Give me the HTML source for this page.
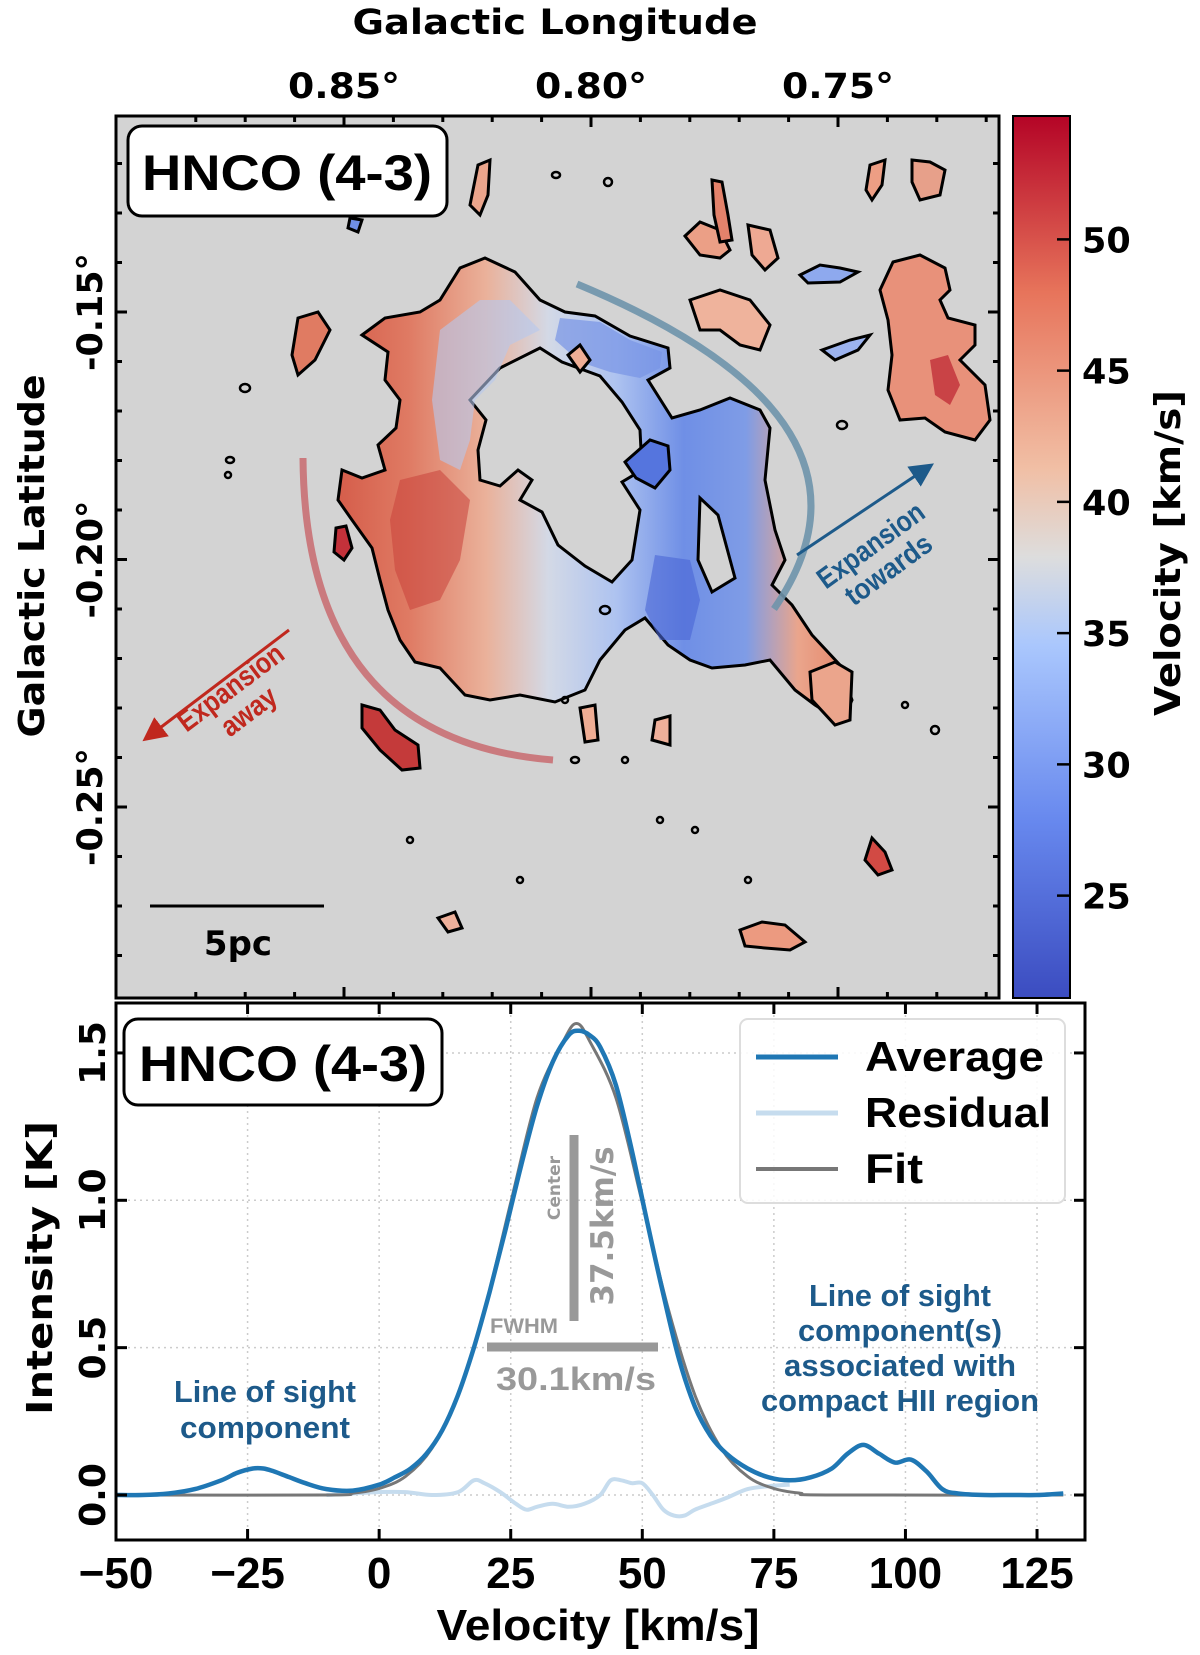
<!DOCTYPE html>
<html><head><meta charset="utf-8">
<style>
html,body{margin:0;padding:0;background:#fff;}
svg{display:block;}
.dj{font-family:"DejaVu Sans","Liberation Sans",sans-serif;font-weight:bold;}
.nw{font-family:"Liberation Sans Narrow","Liberation Sans",sans-serif;font-weight:bold;}
</style></head>
<body>
<svg id="fig" width="1200" height="1655" viewBox="0 0 1200 1655" xmlns="http://www.w3.org/2000/svg">
<defs>
  <linearGradient id="cw" x1="0" y1="1" x2="0" y2="0">
    <stop offset="0" stop-color="#3b4cc0"/>
    <stop offset="0.2" stop-color="#6788ee"/>
    <stop offset="0.4" stop-color="#aac7fd"/>
    <stop offset="0.5" stop-color="#dddddd"/>
    <stop offset="0.6" stop-color="#f1bfa5"/>
    <stop offset="0.8" stop-color="#e7745b"/>
    <stop offset="1" stop-color="#b40426"/>
  </linearGradient>
  <linearGradient id="ringg" gradientUnits="userSpaceOnUse" x1="330" y1="0" x2="850" y2="0">
    <stop offset="0" stop-color="#d45a48"/>
    <stop offset="0.15" stop-color="#df7a63"/>
    <stop offset="0.3" stop-color="#eab19a"/>
    <stop offset="0.42" stop-color="#d3d9e6"/>
    <stop offset="0.55" stop-color="#aec3f0"/>
    <stop offset="0.68" stop-color="#6f8fe6"/>
    <stop offset="0.8" stop-color="#7f9ce6"/>
    <stop offset="0.9" stop-color="#eaa58c"/>
    <stop offset="1" stop-color="#e48468"/>
  </linearGradient>
  <clipPath id="mapclip"><rect x="116" y="116" width="883" height="882"/></clipPath>
  <clipPath id="specclip"><rect x="116" y="1003" width="969" height="537"/></clipPath>
  <marker id="arrR" markerWidth="8" markerHeight="8" refX="4" refY="4" orient="auto" markerUnits="strokeWidth"><path d="M0,0 L8,4 L0,8 Z" fill="#c0281e"/></marker>
  <marker id="arrB" markerWidth="8" markerHeight="8" refX="4" refY="4" orient="auto" markerUnits="strokeWidth"><path d="M0,0 L8,4 L0,8 Z" fill="#1d5a8a"/></marker>
</defs>

<!-- ================= MAP PANEL ================= -->
<text class="dj" x="555" y="34" font-size="35" text-anchor="middle" textLength="405" lengthAdjust="spacingAndGlyphs">Galactic Longitude</text>
<rect x="116" y="116" width="883" height="882" fill="#d3d3d3"/>
<g clip-path="url(#mapclip)" stroke="#000" stroke-width="3">
  <path fill="url(#ringg)" fill-rule="evenodd" d="
   M362,335 L385,318 L420,312 L440,300 L460,268 L485,258 L515,272 L540,300 L565,312 L595,316 L630,336 L668,348 L670,368 L648,380 L672,418 L700,410 L730,398 L760,410 L770,428 L765,480 L775,530 L785,560 L772,585 L792,605 L812,635 L840,665 L852,700 L842,722 L815,705 L795,690 L770,660 L745,665 L712,668 L690,660 L668,645 L645,618 L625,630 L600,660 L585,690 L555,702 L520,695 L490,700 L465,695 L440,668 L415,662 L400,640 L388,610 L380,580 L372,548 L352,520 L338,500 L342,470 L362,478 L385,470 L378,445 L396,428 L400,400 L385,380 L388,352 Z
   M500,368 L540,348 L562,362 L600,376 L622,402 L640,430 L642,470 L622,482 L640,510 L632,560 L612,582 L585,566 L558,545 L542,512 L520,500 L532,480 L518,470 L500,486 L480,480 L478,450 L486,420 L470,400 Z
   M700,498 L718,515 L735,578 L712,592 L698,560 Z"/>
  <path stroke="none" fill="#7894e6" opacity="0.7" d="M560,318 L600,322 L630,340 L662,352 L660,368 L640,378 L610,372 L580,362 L555,340 Z"/>
  <path stroke="none" fill="#b5c8ef" opacity="0.6" d="M440,330 L480,300 L510,300 L540,330 L510,345 L495,380 L475,400 L470,440 L460,470 L440,460 L432,400 Z"/>
  <path stroke="none" fill="#c8413a" opacity="0.55" d="M400,480 L440,470 L470,500 L460,560 L440,600 L410,610 L395,570 L390,520 Z"/>
  <path stroke="none" fill="#4a66d6" opacity="0.6" d="M655,555 L690,560 L700,600 L690,640 L660,640 L645,610 Z"/>
  <path fill="#5575de" d="M625,462 L650,440 L668,446 L670,470 L655,488 L636,478 Z"/>
  <path fill="#e8917a" d="M893,262 L920,255 L945,268 L950,290 L940,300 L948,318 L975,325 L975,345 L960,360 L985,385 L990,420 L975,440 L945,432 L925,418 L900,420 L888,390 L892,355 L888,320 L880,290 Z"/>
  <path stroke="none" fill="#c0303a" opacity="0.8" d="M930,360 L948,355 L960,385 L950,405 L935,395 Z"/>
  <path fill="#c43a3a" d="M362,705 L380,710 L395,730 L418,745 L420,768 L402,770 L380,750 L362,728 Z"/>
  <path fill="#d24a44" d="M872,838 L885,852 L892,870 L878,875 L865,860 Z"/>
  <path fill="#ec9a80" d="M740,930 L762,922 L785,925 L805,942 L790,950 L765,948 L745,946 Z"/>
  <path fill="#e07b62" d="M298,318 L318,312 L330,330 L315,360 L298,375 L292,355 Z"/>
  <path fill="#c3313a" d="M336,528 L346,526 L352,548 L344,560 L334,552 Z"/>
  <path fill="#eb9f86" d="M685,236 L700,222 L720,230 L730,250 L720,258 L700,255 Z"/>
  <path fill="#e3826b" d="M712,180 L722,182 L728,215 L732,240 L720,242 L714,215 Z"/>
  <path fill="#eea993" d="M748,225 L770,230 L778,258 L765,270 L752,255 Z"/>
  <path fill="#ed9e84" d="M870,165 L885,160 L882,185 L872,200 L866,190 Z"/>
  <path fill="#e7a08a" d="M912,160 L930,162 L945,170 L940,195 L920,200 L912,182 Z"/>
  <path fill="#efb39c" d="M690,300 L720,290 L750,300 L770,325 L760,350 L740,345 L720,330 L700,330 Z"/>
  <path fill="#8ea9ee" d="M800,275 L820,265 L840,268 L858,272 L840,282 L808,283 Z"/>
  <path fill="#9cb3ef" d="M822,350 L850,340 L870,335 L858,350 L835,360 Z"/>
  <path fill="#eba58c" d="M810,672 L835,662 L852,672 L850,720 L835,725 L812,700 Z"/>
  <path fill="#eba58c" d="M478,165 L490,160 L488,195 L480,215 L470,205 Z"/>
  <path fill="#6f8ee6" d="M350,218 L362,220 L358,232 L348,228 Z"/>
  <path fill="#efae96" d="M568,355 L580,345 L590,360 L580,372 Z"/>
  <path fill="#efad94" d="M580,708 L595,705 L598,740 L585,742 Z"/>
  <path fill="#efb09a" d="M655,720 L670,716 L670,745 L652,740 Z"/>
  <path fill="#efb09a" d="M438,918 L455,912 L462,928 L448,932 Z"/>
  <g fill="none" stroke-width="2.5">
    <ellipse cx="331" cy="210" rx="4" ry="3"/><ellipse cx="556" cy="175" rx="4" ry="3"/><ellipse cx="608" cy="182" rx="4" ry="4"/>
    <ellipse cx="230" cy="460" rx="4" ry="3"/><ellipse cx="245" cy="388" rx="5" ry="4"/><ellipse cx="228" cy="475" rx="3" ry="3"/>
    <ellipse cx="605" cy="610" rx="5" ry="4"/><ellipse cx="575" cy="760" rx="4" ry="3"/><ellipse cx="660" cy="820" rx="3" ry="3"/>
    <ellipse cx="520" cy="880" rx="3" ry="3"/><ellipse cx="748" cy="880" rx="3" ry="3"/><ellipse cx="842" cy="425" rx="5" ry="4"/>
    <ellipse cx="565" cy="700" rx="3" ry="3"/><ellipse cx="625" cy="760" rx="3" ry="3"/><ellipse cx="695" cy="830" rx="3" ry="3"/>
    <ellipse cx="905" cy="705" rx="3" ry="3"/><ellipse cx="935" cy="730" rx="4" ry="4"/><ellipse cx="410" cy="840" rx="3" ry="3"/>
  </g>
</g>
<path d="M303,458 Q305,740 553,760" fill="none" stroke="#c86a6e" stroke-width="7" opacity="0.85"/>
<path d="M577,284 Q904,420 774,609" fill="none" stroke="#6e93ab" stroke-width="7" opacity="0.9"/>
<line x1="289" y1="630" x2="152" y2="734" stroke="#c0281e" stroke-width="3" marker-end="url(#arrR)"/>
<line x1="797" y1="555" x2="924" y2="470" stroke="#1d5a8a" stroke-width="3" marker-end="url(#arrB)"/>
<g transform="translate(240,700) rotate(-37)">
  <text class="nw" x="0" y="-6" font-size="29" fill="#c0281e" text-anchor="middle" textLength="125" lengthAdjust="spacingAndGlyphs">Expansion</text>
  <text class="nw" x="0" y="24" font-size="29" fill="#c0281e" text-anchor="middle" textLength="62" lengthAdjust="spacingAndGlyphs">away</text>
</g>
<g transform="translate(880,558) rotate(-36)">
  <text class="nw" x="0" y="-6" font-size="29" fill="#1d5a8a" text-anchor="middle" textLength="125" lengthAdjust="spacingAndGlyphs">Expansion</text>
  <text class="nw" x="0" y="24" font-size="29" fill="#1d5a8a" text-anchor="middle" textLength="100" lengthAdjust="spacingAndGlyphs">towards</text>
</g>
<line x1="150" y1="906" x2="324" y2="906" stroke="#000" stroke-width="3"/>
<text class="dj" x="238" y="955" font-size="34" text-anchor="middle">5pc</text>
<rect x="128" y="126" width="319" height="90" rx="14" fill="#fff" stroke="#000" stroke-width="3"/>
<text class="nw" x="287" y="190" font-size="50" text-anchor="middle" textLength="290" lengthAdjust="spacingAndGlyphs">HNCO (4-3)</text>
<g id="mapTicks"></g>
<rect x="116" y="116" width="883" height="882" fill="none" stroke="#000" stroke-width="3"/>
<text class="dj" transform="translate(44,556) rotate(-90)" font-size="36" text-anchor="middle" textLength="363" lengthAdjust="spacingAndGlyphs">Galactic Latitude</text>

<rect x="1013" y="116" width="57" height="882" fill="url(#cw)" stroke="#000" stroke-width="2"/>
<g id="cbTicks"></g>
<text class="dj" transform="translate(1180,553) rotate(-90)" font-size="36" text-anchor="middle" textLength="326" lengthAdjust="spacingAndGlyphs">Velocity [km/s]</text>

<!-- ================= SPECTRUM PANEL ================= -->
<rect x="116" y="1003" width="969" height="537" fill="#fff"/>
<g id="grid"></g>
<g id="series" clip-path="url(#specclip)"></g>
<g id="specTicks"></g>
<rect x="116" y="1003" width="969" height="537" fill="none" stroke="#000" stroke-width="3"/>
<line x1="574" y1="1135" x2="574" y2="1321" stroke="#999" stroke-width="9"/>
<text class="dj" transform="translate(560,1188) rotate(-90)" font-size="17" fill="#999" text-anchor="middle">Center</text>
<text class="dj" transform="translate(613,1226) rotate(-90)" font-size="31" fill="#999" text-anchor="middle">37.5km/s</text>
<line x1="487" y1="1347" x2="658" y2="1347" stroke="#999" stroke-width="9"/>
<text class="nw" x="490" y="1333" font-size="21" fill="#999" textLength="68" lengthAdjust="spacingAndGlyphs">FWHM</text>
<text class="nw" x="576" y="1390" font-size="32" fill="#999" text-anchor="middle" textLength="160" lengthAdjust="spacingAndGlyphs">30.1km/s</text>
<g class="nw" font-size="31" fill="#1d5a8a" text-anchor="middle">
  <text x="265" y="1402" textLength="182" lengthAdjust="spacingAndGlyphs">Line of sight</text>
  <text x="265" y="1438" textLength="170" lengthAdjust="spacingAndGlyphs">component</text>
</g>
<g class="nw" font-size="31" fill="#1d5a8a" text-anchor="middle">
  <text x="900" y="1306" textLength="182" lengthAdjust="spacingAndGlyphs">Line of sight</text>
  <text x="900" y="1341" textLength="204" lengthAdjust="spacingAndGlyphs">component(s)</text>
  <text x="900" y="1376" textLength="232" lengthAdjust="spacingAndGlyphs">associated with</text>
  <text x="900" y="1411" textLength="278" lengthAdjust="spacingAndGlyphs">compact HII region</text>
</g>
<rect x="124" y="1019" width="318" height="86" rx="14" fill="#fff" stroke="#000" stroke-width="3"/>
<text class="nw" x="283" y="1081" font-size="50" text-anchor="middle" textLength="288" lengthAdjust="spacingAndGlyphs">HNCO (4-3)</text>
<g>
  <rect x="740" y="1019" width="325" height="184" rx="8" fill="#fff" fill-opacity="0.85" stroke="#ddd" stroke-width="2"/>
  <line x1="756" y1="1057" x2="838" y2="1057" stroke="#1f77b4" stroke-width="5"/>
  <text class="nw" x="865" y="1071" font-size="42" textLength="179" lengthAdjust="spacingAndGlyphs">Average</text>
  <line x1="756" y1="1113" x2="838" y2="1113" stroke="#c6dcee" stroke-width="5"/>
  <text class="nw" x="865" y="1127" font-size="42" textLength="186" lengthAdjust="spacingAndGlyphs">Residual</text>
  <line x1="756" y1="1169" x2="838" y2="1169" stroke="#777" stroke-width="4"/>
  <text class="nw" x="865" y="1183" font-size="42" textLength="58" lengthAdjust="spacingAndGlyphs">Fit</text>
</g>
<text class="dj" transform="translate(52,1268) rotate(-90)" font-size="36" text-anchor="middle" textLength="294" lengthAdjust="spacingAndGlyphs">Intensity [K]</text>
<text class="nw" x="598" y="1640" font-size="44" text-anchor="middle" textLength="323" lengthAdjust="spacingAndGlyphs">Velocity [km/s]</text>
</svg>

<script>
const cbTickValues = [25, 30, 35, 40, 45, 50];
const cbMin = 21.1, cbMax = 54.7;
const lonTickLabels = ["0.85°", "0.80°", "0.75°"];
const lonTickValues = [0.85, 0.80, 0.75];
const latTickLabels = ["-0.15°", "-0.20°", "-0.25°"];
const latTickValues = [-0.15, -0.20, -0.25];
const xTickValues = [-50, -25, 0, 25, 50, 75, 100, 125];
const yTickValues = [0.0, 0.5, 1.0, 1.5];
const yTickLabels = ["0.0", "0.5", "1.0", "1.5"];
const avgV = [-50,-45,-40,-35,-30,-27,-24,-22,-20,-17,-14,-10,-5,0,3,6,9,12,15,18,21,24,27,30,33,36,38,40,42,45,48,51,54,57,60,63,66,70,74,78,82,86,89,92,95,98,101,104,107,110,115,120,125,130];
const avgI = [0,0,0.005,0.02,0.05,0.075,0.09,0.09,0.08,0.06,0.04,0.02,0.015,0.035,0.06,0.09,0.14,0.22,0.34,0.5,0.69,0.9,1.12,1.32,1.47,1.56,1.575,1.56,1.52,1.39,1.17,0.92,0.68,0.46,0.3,0.2,0.14,0.09,0.06,0.05,0.06,0.09,0.14,0.17,0.14,0.11,0.12,0.08,0.02,0.005,0,0,0,0.005];
const fitV = [-50,-10,-5,0,5,10,15,20,25,30,35,37.5,40,45,50,55,60,65,70,75,80,85,130];
const fitI = [0,0,0.006,0.022,0.063,0.158,0.339,0.627,0.992,1.347,1.54,1.6,1.54,1.347,0.992,0.627,0.339,0.158,0.063,0.022,0.006,0,0];
const resV = [-10,-5,0,5,10,15,18,20,23,26,28,30,33,36,39,42,44,46,48,50,52,54,56,58,60,63,66,70,74,78];
const resI = [0,0.005,0.01,0.01,0,0.01,0.05,0.04,0.01,-0.03,-0.05,-0.04,-0.03,-0.04,-0.03,0,0.05,0.05,0.04,0.04,0,-0.05,-0.07,-0.07,-0.05,-0.03,-0.01,0.02,0.03,0.035];

const NS = "http://www.w3.org/2000/svg";
function mk(tag, attrs, parent){const e=document.createElementNS(NS,tag);for(const k in attrs)e.setAttribute(k,attrs[k]);parent.appendChild(e);return e;}

const lonX = v => 344 + (0.85 - v) / 0.05 * 247;
const latY = v => 312 + (-0.15 - v) / 0.05 * 247.5;
const mt = document.getElementById('mapTicks');
for (let i = -3; i <= 15; i++) {
  const v = 0.85 - i * 0.01, x = lonX(v);
  if (x < 118 || x > 997) continue;
  const major = Math.abs(Math.round(v*100) % 5) === 0;
  const L = major ? 11 : 6;
  const t1 = mk('line',{x1:x,y1:116,x2:x,y2:116+L,stroke:'#000','stroke-width':3},mt);
  
  
  const t2 = mk('line',{x1:x,y1:998,x2:x,y2:998-L,stroke:'#000','stroke-width':3},mt);
  
  
}
for (let i = -4; i <= 14; i++) {
  const v = -0.15 - i * 0.01, y = latY(v);
  if (y < 118 || y > 997) continue;
  const major = Math.abs(Math.round(v*100) % 5) === 0;
  const L = major ? 11 : 6;
  const t1 = mk('line',{x1:116,y1:y,x2:116+L,y2:y,stroke:'#000','stroke-width':3},mt);
  
  
  const t2 = mk('line',{x1:999,y1:y,x2:999-L,y2:y,stroke:'#000','stroke-width':3},mt);
  
  
}
lonTickValues.forEach((v,i)=>{
  const t = mk('text',{x:lonX(v),y:98,'font-size':35,'text-anchor':'middle',class:'dj',textLength:112,lengthAdjust:'spacingAndGlyphs'},mt);
  t.textContent = lonTickLabels[i];
  
  
});
latTickValues.forEach((v,i)=>{
  const t = mk('text',{transform:`translate(102,${latY(v)}) rotate(-90)`,'font-size':35,'text-anchor':'middle',class:'dj',textLength:118,lengthAdjust:'spacingAndGlyphs'},mt);
  t.textContent = latTickLabels[i];
  
  
});

const cbY = v => 998 - (v - cbMin) / (cbMax - cbMin) * 882;
const cb = document.getElementById('cbTicks');
cbTickValues.forEach(v=>{
  const y = cbY(v);
  const l = mk('line',{x1:1070,y1:y,x2:1057,y2:y,stroke:'#000','stroke-width':2.5},cb);
  
  
  const t = mk('text',{x:1082,y:y+13,'font-size':35,class:'dj'},cb);
  t.textContent = String(v);
  
  
});

const xS = v => 116 + (v + 50) * 5.263;
const yS = v => 1495 - v * 294.7;
const grid = document.getElementById('grid');
const st = document.getElementById('specTicks');
xTickValues.forEach(v=>{
  const x = xS(v);
  const g = mk('line',{x1:x,y1:1003,x2:x,y2:1540,stroke:'#ccc','stroke-width':1.5,'stroke-dasharray':'2,4'},grid);
  
  
  const a = mk('line',{x1:x,y1:1540,x2:x,y2:1529,stroke:'#000','stroke-width':3},st);
  
  
  const b = mk('line',{x1:x,y1:1003,x2:x,y2:1014,stroke:'#000','stroke-width':3},st);
  
  
  const t = mk('text',{x:x,y:1588,'font-size':44,'text-anchor':'middle',class:'nw'},st);
  t.textContent = v < 0 ? '\u2212' + Math.abs(v) : String(v);
  
  
});
yTickValues.forEach((v,i)=>{
  const y = yS(v);
  const g = mk('line',{x1:116,y1:y,x2:1085,y2:y,stroke:'#ccc','stroke-width':1.5,'stroke-dasharray':'2,4'},grid);
  
  
  const a = mk('line',{x1:116,y1:y,x2:127,y2:y,stroke:'#000','stroke-width':3},st);
  
  
  const b = mk('line',{x1:1085,y1:y,x2:1074,y2:y,stroke:'#000','stroke-width':3},st);
  
  
  const t = mk('text',{transform:`translate(105,${y}) rotate(-90)`,'font-size':36,'text-anchor':'middle',class:'dj'},st);
  t.textContent = yTickLabels[i];
  
  
});

function smoothPath(vs, is){
  const p = vs.map((v,i)=>[xS(v), yS(is[i])]);
  let d = `M${p[0][0].toFixed(1)},${p[0][1].toFixed(1)}`;
  for (let i=0;i<p.length-1;i++){
    const p0=p[Math.max(0,i-1)], p1=p[i], p2=p[i+1], p3=p[Math.min(p.length-1,i+2)];
    const c1=[p1[0]+(p2[0]-p0[0])/6, p1[1]+(p2[1]-p0[1])/6];
    const c2=[p2[0]-(p3[0]-p1[0])/6, p2[1]-(p3[1]-p1[1])/6];
    d += ` C${c1[0].toFixed(1)},${c1[1].toFixed(1)} ${c2[0].toFixed(1)},${c2[1].toFixed(1)} ${p2[0].toFixed(1)},${p2[1].toFixed(1)}`;
  }
  return d;
}
const ser = document.getElementById('series');
const res = mk('path',{d:smoothPath(resV,resI),fill:'none',stroke:'#c6dcee','stroke-width':4},ser);


const fit = mk('path',{d:smoothPath(fitV,fitI),fill:'none',stroke:'#777','stroke-width':3},ser);


const avg = mk('path',{d:smoothPath(avgV,avgI),fill:'none',stroke:'#1f77b4','stroke-width':4.5},ser);


</script>
</body></html>
